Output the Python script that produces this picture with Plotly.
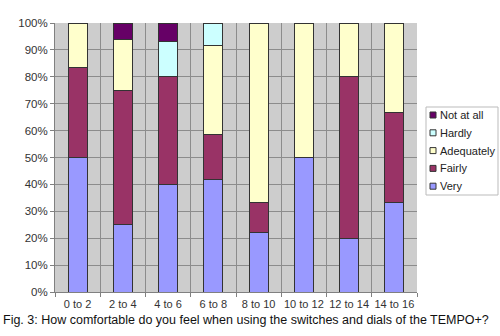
import plotly.graph_objects as go

categories = ["0 to 2", "2 to 4", "4 to 6", "6 to 8", "8 to 10", "10 to 12", "12 to 14", "14 to 16"]
very       = [50.0, 25.0, 40.0, 41.7, 22.2, 50.0, 20.0, 33.3]
fairly     = [33.3, 50.0, 40.0, 16.7, 11.1,  0.0, 60.0, 33.4]
adequately = [16.7, 18.75, 0.0, 33.3, 66.7, 50.0, 20.0, 33.3]
hardly     = [0.0,  0.0, 13.3,  8.3,  0.0,  0.0,  0.0,  0.0]
not_at_all = [0.0,  6.25, 6.7,  0.0,  0.0,  0.0,  0.0,  0.0]

series = [
    ("Very", very, "#9999ff"),
    ("Fairly", fairly, "#993366"),
    ("Adequately", adequately, "#ffffcc"),
    ("Hardly", hardly, "#ccffff"),
    ("Not at all", not_at_all, "#660066"),
]

W, H = 500, 336
L, R, T, B = 55, 83, 23, 44
PW, PH = W - L - R, H - T - B


def px(x):
    return (x - L) / PW


def py(y):
    return (H - B - y) / PH


fig = go.Figure()
for name, vals, col in series:
    fig.add_trace(go.Bar(
        x=categories, y=[v / 100 for v in vals], name=name,
        marker=dict(color=col, line=dict(color="#333333", width=1)),
    ))

font = "Liberation Sans, Arial, sans-serif"

# custom compact legend (Excel-style box)
shapes = [dict(type="rect", xref="paper", yref="paper",
               x0=px(426), x1=px(498), y0=py(107), y1=py(195),
               fillcolor="white", line=dict(color="#bbbbbb", width=1))]
annotations = []
leg_items = list(reversed(series))
for i, (name, vals, col) in enumerate(leg_items):
    yc = 115 + i * 17.8
    shapes.append(dict(type="rect", xref="paper", yref="paper",
                       x0=px(430), x1=px(436), y0=py(yc - 3), y1=py(yc + 3),
                       fillcolor=col, line=dict(color="#333333", width=1)))
    annotations.append(dict(text=name, xref="paper", yref="paper",
                            x=px(438), y=py(yc), xanchor="left", yanchor="middle",
                            showarrow=False,
                            font=dict(family=font, size=11, color="#222222")))

annotations.append(dict(
    text="Fig. 3: How comfortable do you feel when using the switches and dials of the TEMPO+?",
    xref="paper", yref="paper", x=px(1), y=py(320),
    xanchor="left", yanchor="middle", showarrow=False,
    font=dict(family=font, size=12.5, color="#111111"),
))

fig.update_layout(
    barmode="stack",
    bargap=0.58,
    width=W, height=H,
    margin=dict(l=L, r=R, t=T, b=B),
    paper_bgcolor="white",
    plot_bgcolor="#cdcdcd",
    font=dict(family=font, size=11, color="#333333"),
    showlegend=False,
    xaxis=dict(
        type="category",
        tickson="boundaries",
        tickangle=0,
        showgrid=True, gridcolor="#8c8c8c", gridwidth=1,
        ticks="outside", ticklen=4, tickcolor="#808080",
        showline=True, linecolor="#808080", linewidth=1,
        tickfont=dict(family=font, size=11, color="#333333"),
        ticklabelstandoff=2,
    ),
    yaxis=dict(
        range=[0, 1], dtick=0.1, tickformat=".0%",
        showgrid=True, gridcolor="#8c8c8c", gridwidth=1,
        ticks="outside", ticklen=4, tickcolor="#808080",
        showline=True, linecolor="#808080", linewidth=1,
        tickfont=dict(family=font, size=11.5, color="#333333"),
        zeroline=False,
    ),
    shapes=shapes,
    annotations=annotations,
)

fig.write_html("out.html")
